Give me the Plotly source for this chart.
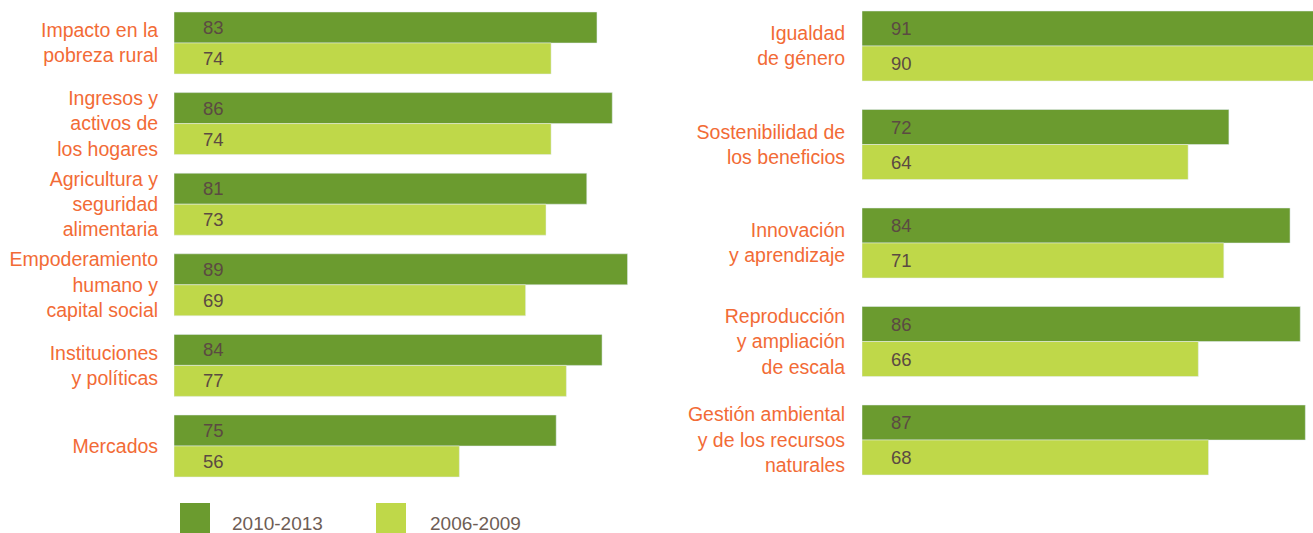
import plotly.graph_objects as go

# ---- data ----
left_categories = [
    "Impacto en la<br>pobreza rural",
    "Ingresos y<br>activos de<br>los hogares",
    "Agricultura y<br>seguridad<br>alimentaria",
    "Empoderamiento<br>humano y<br>capital social",
    "Instituciones<br>y políticas",
    "Mercados",
]
left_2010_2013 = [83, 86, 81, 89, 84, 75]
left_2006_2009 = [74, 74, 73, 69, 77, 56]

right_categories = [
    "Igualdad<br>de género",
    "Sostenibilidad de<br>los beneficios",
    "Innovación<br>y aprendizaje",
    "Reproducción<br>y ampliación<br>de escala",
    "Gestión ambiental<br>y de los recursos<br>naturales",
]
right_2010_2013 = [91, 72, 84, 86, 87]
right_2006_2009 = [90, 64, 71, 66, 68]

series_names = ["2010-2013", "2006-2009"]

# ---- styles ----
W, H = 1313, 533
DARK = "#6b9b2f"
LIGHT = "#bfd849"
ORANGE = "#f26b36"
NUM = "#5b4a42"
LEG = "#6e5d55"
FONT = "Liberation Sans, Arial, sans-serif"

PX_PER_UNIT = 5.096
L_X0 = 174
R_X0 = 862
L_STEP, L_FIRST = 80.6, 43.0
R_STEP, R_FIRST = 98.5, 46.0
L_BAR, R_BAR = 31.0, 35.0

fig = go.Figure()

def add_panel(cats, v1, v2, xa, ya, step, barpx):
    w = barpx / step
    fig.add_trace(go.Bar(y=cats, x=v1, orientation="h", name=series_names[0],
                         marker_color=DARK, width=w, offset=-w,
                         xaxis=xa, yaxis=ya, showlegend=False, hoverinfo="x+y"))
    fig.add_trace(go.Bar(y=cats, x=v2, orientation="h", name=series_names[1],
                         marker_color=LIGHT, width=w, offset=0,
                         xaxis=xa, yaxis=ya, showlegend=False, hoverinfo="x+y"))
    for c, a, b in zip(cats, v1, v2):
        for val, sh in ((a, barpx / 2), (b, -barpx / 2)):
            fig.add_annotation(x=0, y=c, xref=xa, yref=ya, text=str(val),
                               xanchor="left", yanchor="middle", xshift=27, yshift=sh,
                               showarrow=False,
                               font=dict(family=FONT, size=18.5, color=NUM))

add_panel(left_categories, left_2010_2013, left_2006_2009, "x", "y", L_STEP, L_BAR)
add_panel(right_categories, right_2010_2013, right_2006_2009, "x2", "y2", R_STEP, R_BAR)

def yrange(first, step):
    top = -first / step
    bottom = (H - first) / step
    return [bottom, top]

axis_font = dict(family=FONT, size=19.5, color=ORANGE)
fig.update_layout(
    width=W, height=H,
    margin=dict(l=0, r=0, t=0, b=0),
    paper_bgcolor="white", plot_bgcolor="white",
    barmode="overlay",
    showlegend=False,
    xaxis=dict(domain=[L_X0 / W, (L_X0 + 100 * PX_PER_UNIT) / W], range=[0, 100],
               visible=False, fixedrange=True),
    yaxis=dict(domain=[0, 1], type="category", categoryorder="array",
               categoryarray=left_categories, range=yrange(L_FIRST, L_STEP),
               showgrid=False, zeroline=False, showline=False,
               ticks="outside", ticklen=11, tickcolor="rgba(0,0,0,0)",
               tickfont=axis_font, automargin=False, anchor="x", fixedrange=True),
    xaxis2=dict(domain=[R_X0 / W, 1], range=[0, (W - R_X0) / PX_PER_UNIT],
                visible=False, fixedrange=True, anchor="y2"),
    yaxis2=dict(domain=[0, 1], type="category", categoryorder="array",
                categoryarray=right_categories, range=yrange(R_FIRST, R_STEP),
                showgrid=False, zeroline=False, showline=False,
                ticks="outside", ticklen=12, tickcolor="rgba(0,0,0,0)",
                tickfont=axis_font, automargin=False, anchor="x2", fixedrange=True),
)

# ---- custom legend ----
legend_items = [(series_names[0], DARK, 180, 230), (series_names[1], LIGHT, 376, 428)]
for name, col, sx, tx in legend_items:
    fig.add_shape(type="rect", xref="paper", yref="paper",
                  x0=sx / W, x1=(sx + 30) / W, y0=0, y1=1 - 503 / H,
                  fillcolor=col, line=dict(width=0))
    fig.add_annotation(xref="paper", yref="paper", x=tx / W, y=1 - 523 / H,
                       xanchor="left", yanchor="middle", text=name, showarrow=False,
                       font=dict(family=FONT, size=19, color=LEG))

fig.write_html(
    "out.html",
    config={"displayModeBar": False},
    post_script="document.body.style.margin='0';document.body.style.overflow='hidden';",
)
